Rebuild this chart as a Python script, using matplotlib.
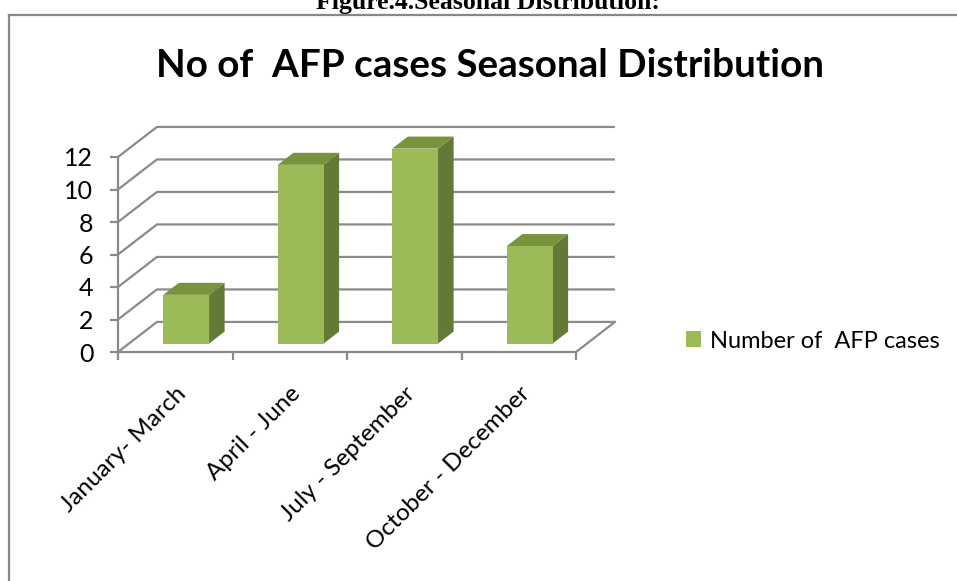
import matplotlib
matplotlib.use('Agg')
import matplotlib.pyplot as plt
from matplotlib.patches import Polygon, Rectangle, Patch
from matplotlib.lines import Line2D

# ---- data ----
categories = ['January- March', 'April - June', 'July - September', 'October - December']
values = [3, 11, 12, 6]
y_ticks = [0, 2, 4, 6, 8, 10, 12]
series_name = 'Number of  AFP cases'
title = 'No of  AFP cases Seasonal Distribution'
caption = 'Figure.4.Seasonal Distribution:'

plt.rcParams['font.family'] = ['Lato', 'DejaVu Sans']

W, H = 957, 581
fig = plt.figure(figsize=(W / 100, H / 100), dpi=100)
ax = fig.add_axes([118 / W, 1 - 352 / H, (576 - 118) / W, (352 - 157) / H])
n = len(categories)
ax.set_xlim(0, n)
ax.set_ylim(0, max(y_ticks))

grid = '#8A8A8A'
front_c = '#9BBB59'
top_c = '#77933C'
side_c = '#637A36'

# oblique depth offsets (data units)
DX, DY = 0.34, 1.85

for v in y_ticks:
    ax.plot([0, DX, n + DX], [v, v + DY, v + DY], color=grid, lw=1.6,
            clip_on=False, zorder=1, solid_capstyle='butt')
ax.plot([n, n + DX], [0, DY], color=grid, lw=1.6, clip_on=False, zorder=1)

bw = 0.4
d0, d1 = 0.28, 0.68
ddx, ddy = (d1 - d0) * DX, (d1 - d0) * DY
for i, v in enumerate(values):
    x0 = i + 0.5 - bw / 2 + d0 * DX
    x1 = x0 + bw
    y0 = d0 * DY
    y1 = y0 + v
    ax.add_patch(Polygon([(x1, y0), (x1 + ddx, y0 + ddy), (x1 + ddx, y1 + ddy), (x1, y1)],
                         closed=True, facecolor=side_c, edgecolor='none', clip_on=False, zorder=3))
    ax.add_patch(Polygon([(x0, y1), (x1, y1), (x1 + ddx, y1 + ddy), (x0 + ddx, y1 + ddy)],
                         closed=True, facecolor=top_c, edgecolor='none', clip_on=False, zorder=3))
    ax.add_patch(Rectangle((x0, y0), bw, v, facecolor=front_c, edgecolor='none',
                           clip_on=False, zorder=4))

for s in ['top', 'right']:
    ax.spines[s].set_visible(False)
for s in ['left', 'bottom']:
    ax.spines[s].set_color(grid)
    ax.spines[s].set_linewidth(1.6)
    ax.spines[s].set_zorder(2)
ax.set_facecolor('none')

ax.set_yticks(y_ticks)
ax.tick_params(axis='y', direction='out', length=5.8, width=1.6, color=grid,
               pad=12, labelsize=18, labelcolor='black')
ax.set_xticks(range(n + 1))
ax.set_xticklabels([])
ax.set_xticks([i + 0.5 for i in range(n)], minor=True)
ax.set_xticklabels(categories, minor=True)
ax.tick_params(axis='x', which='major', direction='out', length=5.8, width=1.6, color=grid)
ax.tick_params(axis='x', which='minor', length=0, pad=22, labelsize=17.5, labelcolor='black')
for lbl in ax.get_xticklabels(minor=True):
    lbl.set_rotation(45)
    lbl.set_ha('right')
    lbl.set_va('top')
    lbl.set_rotation_mode('anchor')

fig.legend(handles=[Patch(facecolor=front_c, edgecolor='none')], labels=[series_name],
           loc='center left', bbox_to_anchor=(686 / W, 1 - 341 / H), frameon=False,
           handlelength=0.65, handleheight=0.65, handletextpad=0.35, fontsize=17,
           borderpad=0, borderaxespad=0)

fig.text(490 / W, 1 - 77 / H, title, ha='center', va='baseline', fontsize=27.8,
         fontweight='bold')
fig.text(488 / W, 1 - 9 / H, caption, ha='center', va='baseline', fontsize=18.5,
         fontweight='bold', family=['Liberation Serif', 'DejaVu Serif'])

# outer border (left and top edges visible)
fig.add_artist(Line2D([9 / W, 9 / W], [0, 1 - 15 / H], color='#888888', lw=1.6))
fig.add_artist(Line2D([9 / W, 1], [1 - 15 / H, 1 - 15 / H], color='#888888', lw=1.6))

fig.savefig('out.png', dpi=100)
